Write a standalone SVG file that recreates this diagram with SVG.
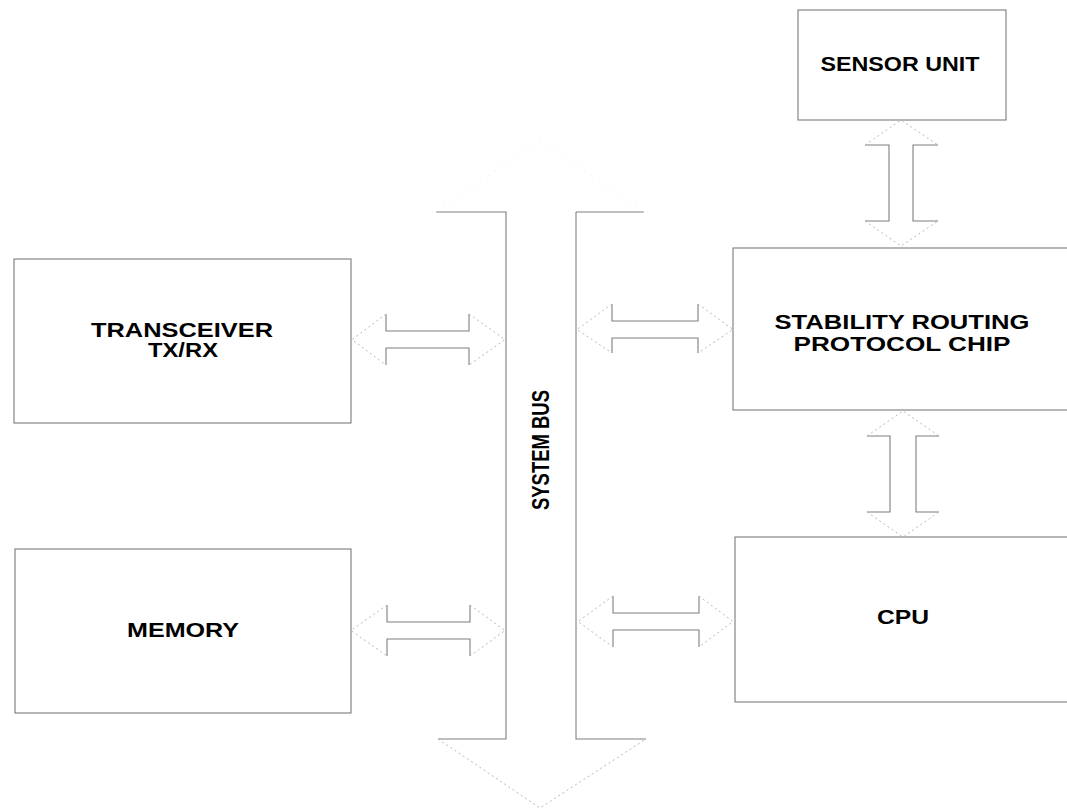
<svg xmlns="http://www.w3.org/2000/svg" width="1067" height="810" viewBox="0 0 1067 810">
<style>
.box{fill:none;stroke:#7a7a7a;stroke-width:1.1}
.ln{fill:none;stroke:#7f7f7f;stroke-width:1.1}
.fa{fill:none;stroke:#b8b8b8;stroke-width:1;stroke-dasharray:2 3}
.vf{fill:none;stroke:#ececec;stroke-width:1;stroke-dasharray:1 8}
.t{font-family:"Liberation Sans",Arial,sans-serif;font-weight:bold;font-size:20px;fill:#000;text-anchor:middle}
.bus{font-size:23px}
</style>
<rect width="1067" height="810" fill="#fff"/>
<g id="transceiver">
<rect class="box" x="14" y="259" width="337" height="164"/>
<text class="t" x="182" y="337" textLength="182" lengthAdjust="spacingAndGlyphs">TRANSCEIVER</text>
<text class="t" x="183" y="357" textLength="70" lengthAdjust="spacingAndGlyphs">TX/RX</text>
</g>
<g id="memory">
<rect class="box" x="15" y="549" width="336" height="164"/>
<text class="t" x="183" y="637" textLength="112" lengthAdjust="spacingAndGlyphs">MEMORY</text>
</g>
<g id="sensor">
<rect class="box" x="798" y="10" width="208" height="110"/>
<text class="t" x="900" y="71" textLength="159" lengthAdjust="spacingAndGlyphs">SENSOR UNIT</text>
</g>
<g id="srp">
<rect class="box" x="733" y="248" width="340" height="162"/>
<text class="t" x="902" y="329" textLength="255" lengthAdjust="spacingAndGlyphs">STABILITY ROUTING</text>
<text class="t" x="902" y="351" textLength="217" lengthAdjust="spacingAndGlyphs">PROTOCOL CHIP</text>
</g>
<g id="cpu">
<rect class="box" x="735" y="537" width="340" height="165"/>
<text class="t" x="903" y="624" textLength="52" lengthAdjust="spacingAndGlyphs">CPU</text>
</g>
<g id="bus">
<path class="ln" d="M436,212 H506 V739 H438 M576,212 V739 H646 M576,212 H644"/>
<path class="fa" d="M438,739 L540,808 L646,739"/>
<path class="vf" d="M436,212 L540,140 L644,212"/>
<text class="t bus" transform="translate(549,450) rotate(-90)" textLength="120" lengthAdjust="spacingAndGlyphs">SYSTEM BUS</text>
</g>
<g id="connectors">
<path class="ln" d="M386,314 V331 H469 V314 M386,365 V348 H469 V365"/>
<path class="fa" d="M386,314 L352,339.5 L386,365 M469,314 L505,339.5 L469,365"/>
<path class="ln" d="M387,605 V622 H470 V605 M387,656 V639 H470 V656"/>
<path class="fa" d="M387,605 L351,630.5 L387,656 M470,605 L505,630.5 L470,656"/>
<path class="ln" d="M612,304 V321 H698 V304 M612,353 V338 H698 V353"/>
<path class="fa" d="M612,304 L577,329.5 L612,353 M698,304 L733,329.5 L698,353"/>
<path class="ln" d="M613,596 V613 H699 V596 M613,647 V630 H699 V647"/>
<path class="fa" d="M613,596 L578,621.5 L613,647 M699,596 L733,621.5 L699,647"/>
<path class="ln" d="M865,145 H889 V221 H865 M938,145 H913 V221 H938"/>
<path class="fa" d="M865,145 L901,120 L938,145 M865,221 L901,246 L938,221"/>
<path class="ln" d="M867,436 H890 V512 H867 M939,436 H916 V512 H939"/>
<path class="fa" d="M867,436 L903,411 L939,436 M867,512 L903,537 L939,512"/>
</g>
</svg>
